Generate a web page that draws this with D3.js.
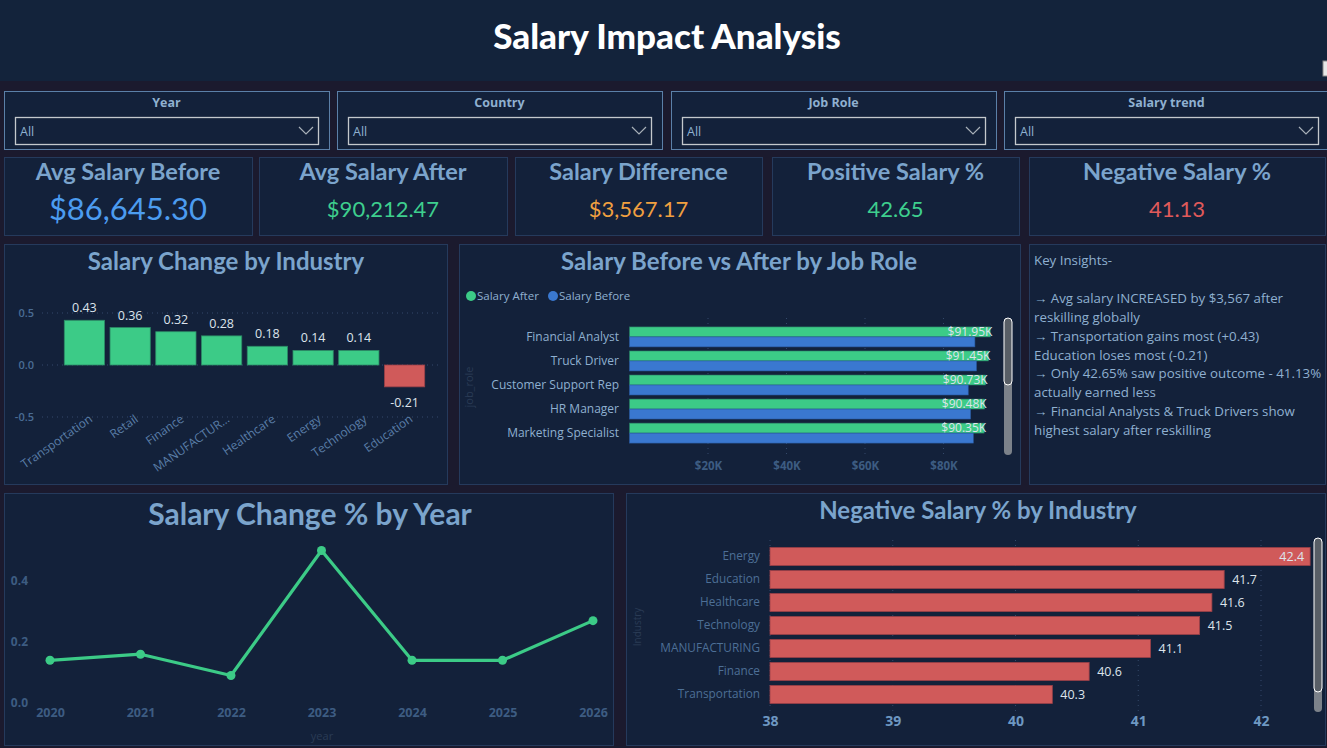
<!DOCTYPE html>
<html>
<head>
<meta charset="utf-8">
<script src="https://cdn.jsdelivr.net/npm/d3@7"></script>
<style>
  body { margin: 0; background: #1b1a2e; overflow: hidden; }
  svg { display: block; }
</style>
</head>
<body>
<script>
// ---- data ----
const slicerLabels = ["Year", "Country", "Job Role", "Salary trend"];

const kpiTitles = ["Avg Salary Before", "Avg Salary After", "Salary Difference", "Positive Salary %", "Negative Salary %"];
const kpiValues = ["$86,645.30", "$90,212.47", "$3,567.17", "42.65", "41.13"];

const industries = ["Transportation", "Retail", "Finance", "MANUFACTURING", "Healthcare", "Energy", "Technology", "Education"];
const industryChange = [0.43, 0.36, 0.32, 0.28, 0.18, 0.14, 0.14, -0.21];

const jobRoles = ["Financial Analyst", "Truck Driver", "Customer Support Rep", "HR Manager", "Marketing Specialist"];
const salaryAfter = [91950, 91450, 90730, 90480, 90350];
const salaryBefore = [88000, 88400, 86300, 86900, 87600];

const years = [2020, 2021, 2022, 2023, 2024, 2025, 2026];
const yearChange = [0.14, 0.16, 0.09, 0.50, 0.14, 0.14, 0.27];

const negIndustries = ["Energy", "Education", "Healthcare", "Technology", "MANUFACTURING", "Finance", "Transportation"];
const negPct = [42.4, 41.7, 41.6, 41.5, 41.1, 40.6, 40.3];

const insights = [
  "Key Insights-",
  "",
  "\u2192 Avg salary INCREASED by $3,567  after",
  "reskilling globally",
  "\u2192 Transportation gains most (+0.43)",
  "Education loses most (-0.21)",
  "\u2192 Only 42.65% saw positive outcome - 41.13%",
  "actually earned less",
  "\u2192 Financial Analysts & Truck Drivers  show",
  "highest salary after reskilling"
];

// ---- colours ----
const panelBg = "#13213a",
  panelBorder = "#253a5c",
  titleCol = "#7ba4cc",
  labelCol = "#8fb0d0",
  dimTick = "#3d5c82",
  green = "#3ccb87",
  blue = "#3a78d0",
  red = "#d05a5a",
  valCol = "#dde4ec";

const titleFont = "Lato, 'Open Sans', sans-serif";
const bodyFont = "'Open Sans', 'Noto Sans', sans-serif";

const svg = d3.select("body").append("svg")
  .attr("width", 1327)
  .attr("height", 748);

// header
svg.append("rect").attr("x", 0).attr("y", 0).attr("width", 1327).attr("height", 81).attr("fill", "#13233b");
svg.append("text")
  .attr("x", 667).attr("y", 49)
  .attr("text-anchor", "middle")
  .style("font-family", titleFont).style("font-weight", 900).style("font-size", "35px")
  .attr("fill", "#ffffff")
  .text("Salary Impact Analysis");
svg.append("rect").attr("x", 1323).attr("y", 61).attr("width", 5).attr("height", 15)
  .attr("fill", "#e8e8e8").attr("stroke", "#8a8a8a");

function panel(x, y, w, h) {
  return svg.append("rect").attr("x", x + 0.5).attr("y", y + 0.5).attr("width", w).attr("height", h)
    .attr("fill", panelBg).attr("stroke", panelBorder);
}

// ---- slicers ----
const slicerX = [4, 337, 671, 1004];
slicerLabels.forEach((lab, i) => {
  let x = slicerX[i], w = 325;
  svg.append("rect").attr("x", x + 0.5).attr("y", 91.5).attr("width", w).attr("height", 58)
    .attr("fill", panelBg).attr("stroke", "#5b80a8");
  svg.append("text").attr("x", x + w / 2).attr("y", 107).attr("text-anchor", "middle")
    .style("font-family", bodyFont).style("font-weight", 700).style("font-size", "12.5px")
    .attr("fill", labelCol).text(lab);
  svg.append("rect").attr("x", x + 11.5).attr("y", 117.5).attr("width", 303).attr("height", 27)
    .attr("fill", panelBg).attr("stroke", "#c4c8cc").attr("stroke-width", 1.3);
  svg.append("text").attr("x", x + 16).attr("y", 136)
    .style("font-family", bodyFont).style("font-size", "12.5px")
    .attr("fill", labelCol).text("All");
  svg.append("path")
    .attr("d", `M${x + 295},${127} L${x + 302},${134} L${x + 309},${127}`)
    .attr("fill", "none").attr("stroke", "#a8b0b8").attr("stroke-width", 1.2);
});

// ---- KPI cards ----
const cardX = [4, 259, 515, 772, 1029];
const cardW = [248, 248, 247, 247, 296];
const kpiColors = ["#4c9cf0", "#3ecf8e", "#f0a040", "#3ecf8e", "#e05a5a"];
const kpiSizes = [31, 22, 22, 22, 22];
kpiTitles.forEach((t, i) => {
  panel(cardX[i], 157, cardW[i], 78);
  svg.append("text").attr("x", cardX[i] + cardW[i] / 2).attr("y", 180).attr("text-anchor", "middle")
    .style("font-family", titleFont).style("font-weight", 700).style("font-size", "23.5px")
    .attr("fill", titleCol).text(t);
  svg.append("text").attr("x", cardX[i] + cardW[i] / 2).attr("y", i === 0 ? 220 : 217).attr("text-anchor", "middle")
    .style("font-family", titleFont).style("font-size", kpiSizes[i] + "px")
    .attr("fill", kpiColors[i]).text(kpiValues[i]);
});

function panelTitle(x, y, txt, size) {
  svg.append("text").attr("x", x).attr("y", y).attr("text-anchor", "middle")
    .style("font-family", titleFont).style("font-weight", 700).style("font-size", size + "px")
    .attr("fill", titleCol).text(txt);
}

const minus = s => s.replace("\u2212", "-");

// ---- Salary Change by Industry ----
panel(4, 244, 443, 240);
panelTitle(226, 270, "Salary Change by Industry", 24);
{
  let x = d3.scaleBand().domain(industries).range([62, 427]).paddingInner(0.12).paddingOuter(0.05);
  let y = d3.scaleLinear().domain([-0.5, 0.5]).range([417, 313]);
  let g = svg.append("g");
  let yAxis = g.append("g").attr("transform", "translate(42,0)")
    .call(d3.axisLeft(y).tickValues([-0.5, 0, 0.5]).tickFormat(d => minus(d3.format(".1f")(d))).tickSize(0).tickPadding(8));
  yAxis.select(".domain").remove();
  yAxis.selectAll("text").style("font-family", bodyFont).style("font-size", "11px")
    .style("font-weight", 600).attr("fill", "#4a6c94");
  g.selectAll("line.grid").data([-0.5, 0, 0.5]).join("line")
    .attr("x1", 42).attr("x2", 440).attr("y1", d => y(d)).attr("y2", d => y(d))
    .attr("stroke", "#34496a").attr("stroke-dasharray", "1,4");
  let data = industries.map((d, i) => ({ name: d, v: industryChange[i] }));
  g.selectAll("rect.bar").data(data).join("rect")
    .attr("x", d => x(d.name)).attr("width", x.bandwidth())
    .attr("y", d => y(Math.max(0, d.v))).attr("height", d => Math.abs(y(d.v) - y(0)))
    .attr("fill", d => d.v >= 0 ? green : red)
    .attr("stroke", d => d.v >= 0 ? "#2c8a66" : "#9a4048").attr("stroke-width", 0.8);
  g.selectAll("text.val").data(data).join("text")
    .attr("x", d => x(d.name) + x.bandwidth() / 2)
    .attr("y", d => d.v >= 0 ? y(d.v) - 8 : y(d.v) + 20)
    .attr("text-anchor", "middle")
    .style("font-family", bodyFont).style("font-size", "12.5px")
    .attr("fill", valCol).text(d => minus(d3.format(".2f")(d.v)));
  // long all-caps names get cut like the original axis does
  let xAxis = g.append("g").attr("transform", "translate(4,414)")
    .call(d3.axisBottom(x).tickSize(0).tickPadding(0)
      .tickFormat(d => d === d.toUpperCase() && d.length > 10 ? d.slice(0, 10) + "..." : d));
  xAxis.select(".domain").remove();
  xAxis.selectAll("text")
    .attr("text-anchor", "end")
    .attr("dy", "0.7em")
    .attr("transform", "rotate(-35)")
    .style("font-family", bodyFont).style("font-size", "12px")
    .attr("fill", "#5a7ea8");
}

// ---- Salary Before vs After by Job Role ----
panel(459, 244, 561, 240);
panelTitle(739, 270, "Salary Before vs After by Job Role", 24);
{
  let g = svg.append("g");
  let legend = [["Salary After", green, 471], ["Salary Before", blue, 553]];
  legend.forEach(l => {
    g.append("circle").attr("cx", l[2]).attr("cy", 296).attr("r", 5).attr("fill", l[1]);
    g.append("text").attr("x", l[2] + 6).attr("y", 300)
      .style("font-family", bodyFont).style("font-size", "11.5px")
      .attr("fill", labelCol).text(l[0]);
  });
  let x = d3.scaleLinear().domain([0, 95000]).range([629.5, 629.5 + 95 * 3.925]);
  let y = d3.scaleBand().domain(jobRoles).range([325, 445]).paddingInner(0.17).paddingOuter(0.08);
  let sub = d3.scaleBand().domain(["after", "before"]).range([0, y.bandwidth()]);
  let ticks = [20000, 40000, 60000, 80000];
  g.selectAll("line.grid").data(ticks).join("line")
    .attr("x1", d => x(d)).attr("x2", d => x(d)).attr("y1", 318).attr("y2", 455)
    .attr("stroke", "#34496a").attr("stroke-dasharray", "1,4");
  let xAxis = g.append("g").attr("transform", "translate(0,458)")
    .call(d3.axisBottom(x).tickValues(ticks).tickFormat(d => "$" + d / 1000 + "K").tickSize(0).tickPadding(4));
  xAxis.select(".domain").remove();
  xAxis.selectAll("text").style("font-family", bodyFont).style("font-size", "11.5px")
    .style("font-weight", 700).attr("fill", dimTick);
  let yAxis = g.append("g").attr("transform", "translate(619,0)")
    .call(d3.axisLeft(y).tickSize(0).tickPadding(0));
  yAxis.select(".domain").remove();
  yAxis.selectAll("text").style("font-family", bodyFont).style("font-size", "12px").attr("fill", labelCol);
  g.append("text").attr("transform", "translate(473,387) rotate(-90)").attr("text-anchor", "middle")
    .style("font-family", bodyFont).style("font-size", "11px").attr("fill", "#2a3b55").text("job_role");
  let rows = jobRoles.map((r, i) => ({ r, after: salaryAfter[i], before: salaryBefore[i] }));
  g.selectAll("rect.after").data(rows).join("rect")
    .attr("x", x(0)).attr("y", d => y(d.r) + sub("after"))
    .attr("width", d => x(d.after) - x(0)).attr("height", sub.bandwidth())
    .attr("fill", green).attr("stroke", "#2a7a64").attr("stroke-width", 0.6);
  g.selectAll("rect.before").data(rows).join("rect")
    .attr("x", x(0)).attr("y", d => y(d.r) + sub("before"))
    .attr("width", d => x(d.before) - x(0)).attr("height", sub.bandwidth())
    .attr("fill", blue).attr("stroke", "#2a5aa0").attr("stroke-width", 0.6);
  g.selectAll("text.val").data(rows).join("text")
    .attr("x", d => x(d.after) + 2).attr("y", d => y(d.r) + sub("after") + sub.bandwidth() / 2 + 4)
    .attr("text-anchor", "end")
    .style("font-family", bodyFont).style("font-size", "12px")
    .attr("fill", valCol).text(d => "$" + d3.format(".2f")(d.after / 1000) + "K");
  // scrollbar
  g.append("rect").attr("x", 1004).attr("y", 318).attr("width", 8).attr("height", 137).attr("rx", 4).attr("fill", "#7c828a");
  g.append("rect").attr("x", 1004).attr("y", 318).attr("width", 8).attr("height", 67).attr("rx", 4)
    .attr("fill", "#585e66").attr("stroke", "#ffffff").attr("stroke-width", 1);
}

// ---- Key Insights ----
panel(1029, 244, 296, 240);
svg.append("g").selectAll("text").data(insights).join("text")
  .attr("x", 1034).attr("y", (d, i) => 265 + i * 18.9)
  .style("font-family", bodyFont).style("font-size", "13.3px")
  .attr("fill", labelCol).text(d => d);

// ---- Salary Change % by Year ----
panel(4, 493, 609, 252);
panelTitle(310, 525, "Salary Change % by Year", 30);
{
  let g = svg.append("g");
  let x = d3.scalePoint().domain(years).range([50, 593]);
  let y = d3.scaleLinear().domain([0, 0.55]).range([703, 703 - 0.55 * 305]);
  let yAxis = g.append("g").attr("transform", "translate(30,0)")
    .call(d3.axisLeft(y).tickValues([0, 0.2, 0.4]).tickFormat(d3.format(".1f")).tickSize(0).tickPadding(2));
  yAxis.select(".domain").remove();
  yAxis.selectAll("text").style("font-family", bodyFont).style("font-size", "12px")
    .style("font-weight", 700).attr("fill", dimTick);
  let xAxis = g.append("g").attr("transform", "translate(0,708)")
    .call(d3.axisBottom(x).tickSize(0).tickPadding(0));
  xAxis.select(".domain").remove();
  xAxis.selectAll("text").style("font-family", bodyFont).style("font-size", "12.5px")
    .style("font-weight", 700).attr("fill", dimTick);
  g.append("text").attr("x", 322).attr("y", 740).attr("text-anchor", "middle")
    .style("font-family", bodyFont).style("font-size", "11px").attr("fill", "#2a3b55").text("year");
  let pts = years.map((yr, i) => ({ yr, v: yearChange[i] }));
  g.append("path").datum(pts)
    .attr("d", d3.line().x(d => x(d.yr)).y(d => y(d.v)))
    .attr("fill", "none").attr("stroke", green).attr("stroke-width", 3.2).attr("stroke-linejoin", "round");
  g.selectAll("circle").data(pts).join("circle")
    .attr("cx", d => x(d.yr)).attr("cy", d => y(d.v)).attr("r", 4.5).attr("fill", green);
}

// ---- Negative Salary % by Industry ----
panel(626, 493, 699, 252);
panelTitle(978, 519, "Negative Salary % by Industry", 24);
{
  let g = svg.append("g");
  let x = d3.scaleLinear().domain([38, 42]).range([770, 1261]);
  let y = d3.scaleBand().domain(negIndustries).range([545, 706]).paddingInner(0.217).paddingOuter(0.11);
  let ticks = [38, 39, 40, 41, 42];
  g.selectAll("line.grid").data(ticks).join("line")
    .attr("x1", d => x(d)).attr("x2", d => x(d)).attr("y1", 540).attr("y2", 712)
    .attr("stroke", "#34496a").attr("stroke-dasharray", "1,4");
  let xAxis = g.append("g").attr("transform", "translate(0,716)")
    .call(d3.axisBottom(x).tickValues(ticks).tickFormat(d3.format("d")).tickSize(0).tickPadding(0));
  xAxis.select(".domain").remove();
  xAxis.selectAll("text").style("font-family", bodyFont).style("font-size", "14px")
    .style("font-weight", 700).attr("fill", "#6e98c2");
  let yAxis = g.append("g").attr("transform", "translate(760,0)")
    .call(d3.axisLeft(y).tickSize(0).tickPadding(0));
  yAxis.select(".domain").remove();
  yAxis.selectAll("text").style("font-family", bodyFont).style("font-size", "11.8px").attr("fill", "#4d6f96");
  g.append("text").attr("transform", "translate(641,627) rotate(-90)").attr("text-anchor", "middle")
    .style("font-family", bodyFont).style("font-size", "10px").attr("fill", "#2a3b55").text("Industry");
  let rows = negIndustries.map((n, i) => ({ n, v: negPct[i] }));
  g.selectAll("rect.bar").data(rows).join("rect")
    .attr("x", x(38)).attr("y", d => y(d.n))
    .attr("width", d => x(d.v) - x(38)).attr("height", y.bandwidth())
    .attr("fill", red).attr("stroke", "#9a4048").attr("stroke-width", 0.8);
  g.selectAll("text.val").data(rows).join("text")
    .attr("x", (d, i) => i === 0 ? x(d.v) - 6 : x(d.v) + 8)
    .attr("y", d => y(d.n) + y.bandwidth() / 2 + 4.5)
    .attr("text-anchor", (d, i) => i === 0 ? "end" : "start")
    .style("font-family", bodyFont).style("font-size", "12.5px")
    .attr("fill", valCol).text(d => d3.format(".1f")(d.v));
  // scrollbar
  g.append("rect").attr("x", 1314).attr("y", 538).attr("width", 8).attr("height", 174).attr("rx", 4).attr("fill", "#7c828a");
  g.append("rect").attr("x", 1314).attr("y", 538).attr("width", 8).attr("height", 154).attr("rx", 4)
    .attr("fill", "#585e66").attr("stroke", "#ffffff").attr("stroke-width", 1);
}
</script>
</body>
</html>
